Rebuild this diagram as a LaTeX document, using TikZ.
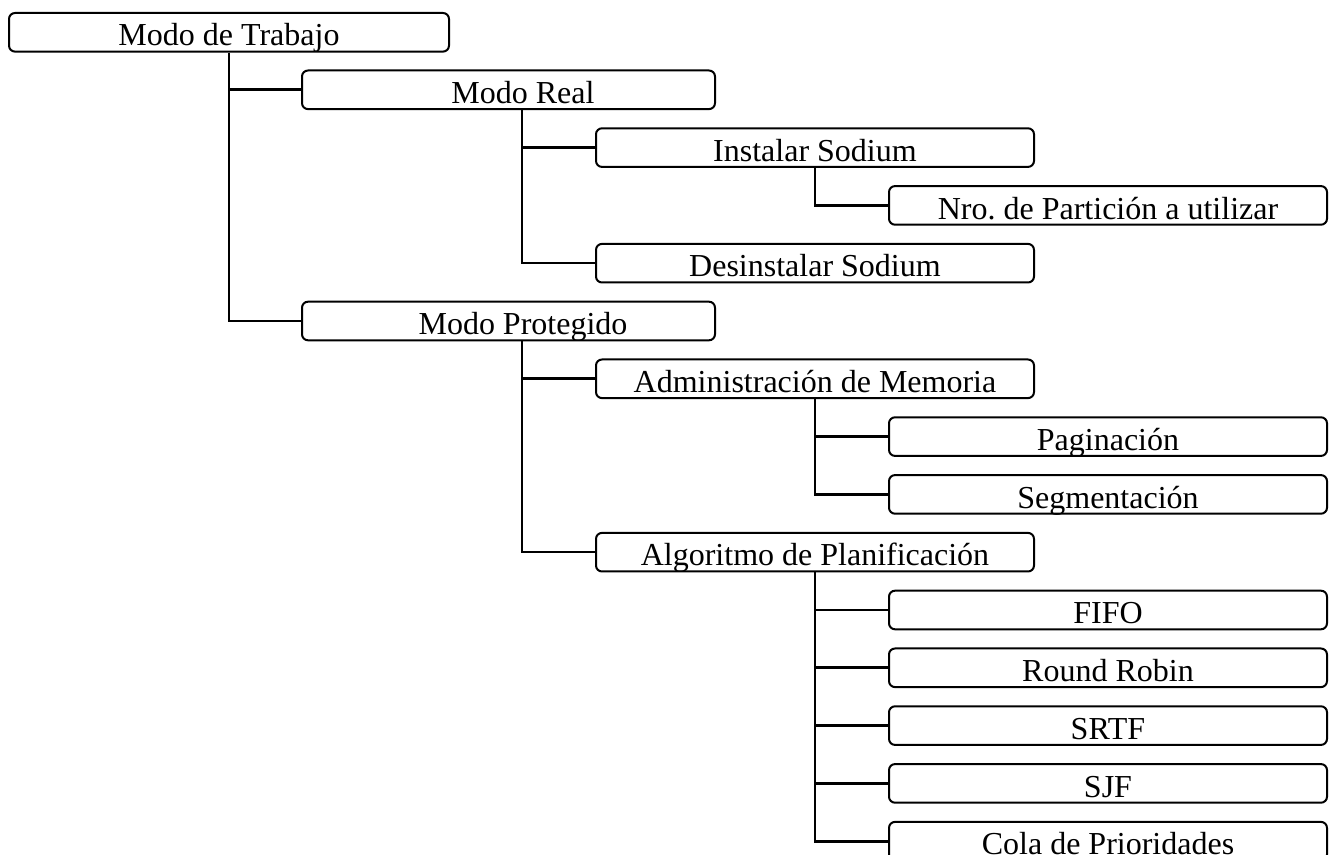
\documentclass[tikz,border=0pt]{standalone}
\usepackage{fontspec}
\setmainfont{Liberation Serif}
\usetikzlibrary{positioning}

\tikzset{
  caja/.style={draw, line width=1pt, rounded corners=3pt, anchor=north west,
    inner xsep=0pt, inner ysep=0pt, text height=16.5pt, text depth=2.8pt,
    font=\fontsize{16}{19}\selectfont},
  ancho0/.style={caja, minimum width=220pt},
  ancho1/.style={caja, minimum width=206.5pt},
  ancho2/.style={caja, minimum width=219pt},
  linea/.style={line width=1.3pt},
}
% desplaza el texto de las cajas de nivel 1
\newcommand{\corre}{\hspace*{14.5pt}}

\begin{document}
\begin{tikzpicture}[x=0.5pt, y=-0.5pt]
        \useasboundingbox (0,0) rectangle (1335,855);
        \clip (0,0) rectangle (1335,855);
        % Raiz
        \node[ancho0] (raiz) at (8,12) {Modo de Trabajo};
        % Modo real
        \node[ancho1] (real) at (301,69.5) {\corre Modo Real};
        \node[ancho2] (instalar) at (595,127.3) {Instalar Sodium};
        \node[ancho2] (particion) at (888,185.1) {Nro.\ de Partición a utilizar};
        \node[ancho2] (desinstalar) at (595,242.9) {Desinstalar Sodium};
        % Modo protegido
        \node[ancho1] (protegido) at (301,300.7) {\corre Modo Protegido};
        \node[ancho2] (memoria) at (595,358.5) {Administración de Memoria};
        \node[ancho2] (paginacion) at (888,416.3) {Paginación};
        \node[ancho2] (segmentacion) at (888,474.1) {Segmentación};
        \node[ancho2] (planif) at (595,531.9) {Algoritmo de Planificación};
        \node[ancho2] (fifo) at (888,589.7) {FIFO};
        \node[ancho2] (robin) at (888,647.5) {Round Robin};
        \node[ancho2] (srtf) at (888,705.3) {SRTF};
        \node[ancho2] (sjf) at (888,763.1) {SJF};
        \node[ancho2] (cola) at (888,820.9) {Cola de Prioridades};
        % Conectores
        \draw[linea] ([xshift=110.5pt]raiz.south west) |- (real.west);
        \draw[linea] ([xshift=110.5pt]raiz.south west) |- (protegido.west);
        \draw[linea] ([xshift=110.5pt]real.south west) |- (instalar.west);
        \draw[linea] ([xshift=110.5pt]real.south west) |- (desinstalar.west);
        \draw[linea] ([xshift=110pt]instalar.south west) |- (particion.west);
        \draw[linea] ([xshift=110.5pt]protegido.south west) |- (memoria.west);
        \draw[linea] ([xshift=110.5pt]protegido.south west) |- (planif.west);
        \draw[linea] ([xshift=110pt]memoria.south west) |- (paginacion.west);
        \draw[linea] ([xshift=110pt]memoria.south west) |- (segmentacion.west);
        \draw[linea] ([xshift=110pt]planif.south west) |- (fifo.west);
        \draw[linea] ([xshift=110pt]planif.south west) |- (robin.west);
        \draw[linea] ([xshift=110pt]planif.south west) |- (srtf.west);
        \draw[linea] ([xshift=110pt]planif.south west) |- (sjf.west);
        \draw[linea] ([xshift=110pt]planif.south west) |- (cola.west);
\end{tikzpicture}
\end{document}
